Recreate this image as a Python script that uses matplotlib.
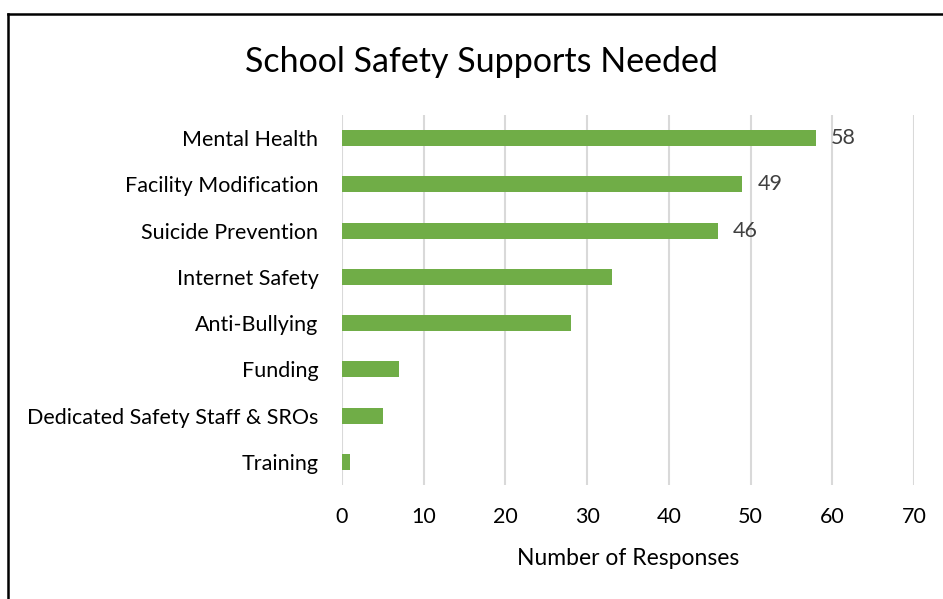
import matplotlib.pyplot as plt
from matplotlib.lines import Line2D

categories = ["Mental Health", "Facility Modification", "Suicide Prevention",
              "Internet Safety", "Anti-Bullying", "Funding",
              "Dedicated Safety Staff & SROs", "Training"]
responses = [58, 49, 46, 33, 28, 7, 5, 1]
labelled = [58, 49, 46]
xticks = [0, 10, 20, 30, 40, 50, 60, 70]

plt.rcParams['font.family'] = ['Lato', 'DejaVu Sans']

fig = plt.figure(figsize=(9.43, 5.99), dpi=100)
ax = fig.add_axes([0.3627, 0.1903, 0.6065, 0.6177])

ypos = list(range(len(categories)))
ax.barh(ypos, responses, height=0.35, color='#70ad47', zorder=3)
for y, v in zip(ypos, responses):
    if v in labelled:
        ax.annotate(str(v), (v, y), xytext=(11, 0), textcoords='offset points',
                    va='center', ha='left', fontsize=15.5, color='#404040')

ax.set_xlim(0, 70)
ax.set_ylim(len(categories) - 0.5, -0.5)
ax.set_xticks(xticks)
ax.set_yticks(ypos)
ax.set_yticklabels(categories)
ax.tick_params(axis='both', length=0, labelsize=15.5, colors='black')
ax.tick_params(axis='y', pad=17)
ax.tick_params(axis='x', pad=16)
ax.grid(axis='x', color='#d9d9d9', linewidth=1.5, zorder=0)
for s in ax.spines.values():
    s.set_visible(False)
ax.set_xlabel("Number of Responses", fontsize=16.5, labelpad=15)

fig.text(0.511, 0.897, "School Safety Supports Needed", ha='center', va='center',
         fontsize=24.5)

# chart border (cropped: only top and left visible)
fig.add_artist(Line2D([0.009, 1.0], [0.977, 0.977], transform=fig.transFigure,
                      color='black', linewidth=1.8))
fig.add_artist(Line2D([0.009, 0.009], [0.0, 0.977], transform=fig.transFigure,
                      color='black', linewidth=1.8))

fig.savefig("out.png", dpi=100)
